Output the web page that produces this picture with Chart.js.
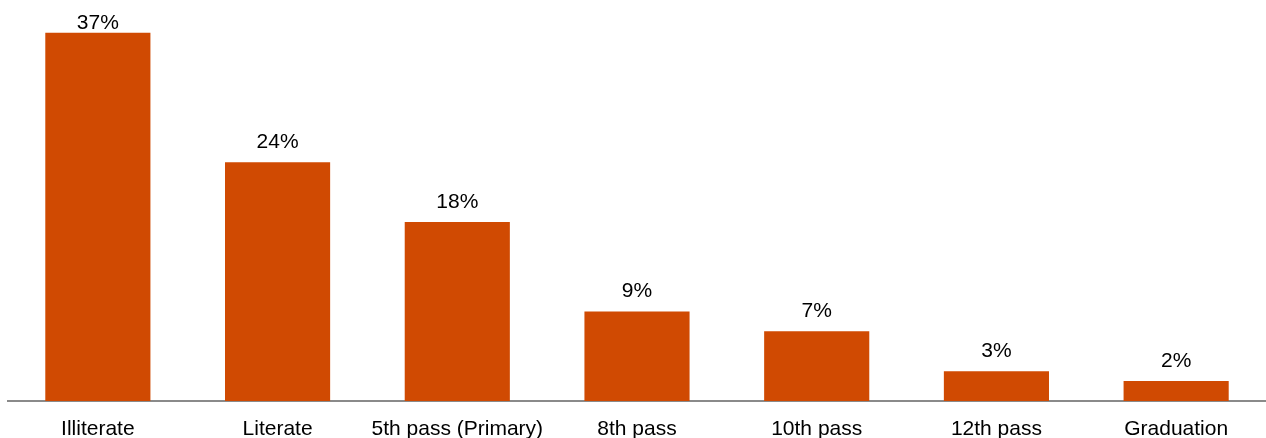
<!DOCTYPE html>
<html>
<head>
<meta charset="utf-8">
<script src="https://cdn.jsdelivr.net/npm/chart.js@4/dist/chart.umd.min.js"></script>
<style>
  html, body { margin: 0; padding: 0; background: #ffffff; }
  #wrap { width: 1266px; height: 438px; position: relative; }
</style>
</head>
<body>
<div id="wrap"><canvas id="chart" width="1266" height="438"></canvas></div>
<script>
// Education level categories and their share (%)
const categories = ['Illiterate', 'Literate', '5th pass (Primary)', '8th pass', '10th pass', '12th pass', 'Graduation'];
const shares = [37, 24, 18, 9, 7, 3, 2];

const barColor = '#D04A02';
const fontFamily = '"Liberation Sans", Arial, Helvetica, sans-serif';
const fontSize = 21;

// Writes each bar's value with a percent sign just above it,
// keeping the tallest label inside the canvas
const valueLabels = {
  id: 'valueLabels',
  afterDatasetsDraw(chart) {
    const ctx = chart.ctx;
    const meta = chart.getDatasetMeta(0);
    ctx.save();
    ctx.font = fontSize + 'px ' + fontFamily;
    ctx.fillStyle = '#000000';
    ctx.textAlign = 'center';
    ctx.textBaseline = 'alphabetic';
    meta.data.forEach((bar, i) => {
      const baseline = Math.max(bar.y - 14, 29);
      ctx.fillText(shares[i] + '%', bar.x, baseline);
    });
    ctx.restore();
  }
};

new Chart(document.getElementById('chart'), {
  type: 'bar',
  data: {
    labels: categories,
    datasets: [{
      data: shares,
      backgroundColor: barColor,
      borderWidth: 0,
      barPercentage: 0.585,
      categoryPercentage: 1.0
    }]
  },
  options: {
    responsive: false,
    animation: false,
    devicePixelRatio: 1,
    layout: { padding: { left: 8, right: 0, top: 0, bottom: 0 } },
    plugins: {
      legend: { display: false },
      tooltip: { enabled: false }
    },
    scales: {
      x: {
        grid: { display: false, drawTicks: false },
        border: { display: true, color: '#8a8a8a', width: 2 },
        ticks: {
          color: '#000000',
          font: { family: fontFamily, size: fontSize },
          padding: 16,
          maxRotation: 0,
          autoSkip: false
        },
        afterFit(scale) { scale.height = 37; }
      },
      y: {
        display: false,
        min: 0,
        max: 40.3
      }
    }
  },
  plugins: [valueLabels]
});
</script>
</body>
</html>
